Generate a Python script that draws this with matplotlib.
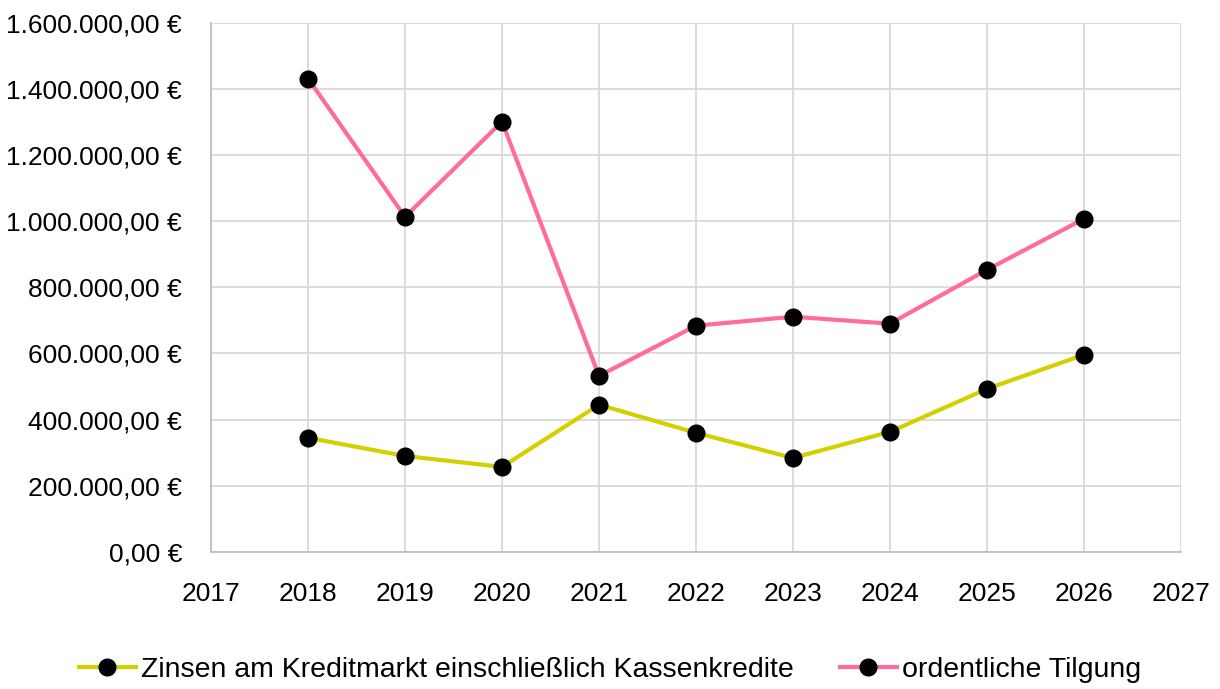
import matplotlib
matplotlib.use("Agg")
import matplotlib.pyplot as plt
from matplotlib.ticker import FuncFormatter

plt.rcParams['font.family'] = ['Liberation Sans', 'DejaVu Sans']

years = [2018, 2019, 2020, 2021, 2022, 2023, 2024, 2025, 2026]
zinsen = [345000, 290000, 257000, 445000, 360000, 284000, 363000, 493000, 596000]
tilgung = [1431000, 1013000, 1301000, 532000, 684000, 711000, 690000, 853000, 1007000]
labels = ["Zinsen am Kreditmarkt einschließlich Kassenkredite", "ordentliche Tilgung"]

fig = plt.figure(figsize=(12.2, 6.89), dpi=100)
ax = fig.add_axes([0.173, 0.199, 0.795, 0.768])

ax.plot(years, zinsen, color='#D4D000', lw=3, marker='o', ms=12,
        mfc='black', mec='black', label=labels[0], zorder=3)
ax.plot(years, tilgung, color='#FF6B9A', lw=3, marker='o', ms=12,
        mfc='black', mec='black', label=labels[1], zorder=3)

ax.set_xlim(2017, 2027)
ax.set_ylim(0, 1600000)
ax.set_xticks(range(2017, 2028))
ax.set_yticks(range(0, 1600001, 200000))

def fmt(v, pos):
    s = f"{v:,.2f}".replace(",", "X").replace(".", ",").replace("X", ".")
    return s + " €"
ax.yaxis.set_major_formatter(FuncFormatter(fmt))

ax.grid(True, color='#D9D9D9', lw=1.3)
ax.set_axisbelow(True)
for s in ['top', 'right']:
    ax.spines[s].set_visible(False)
for s in ['left', 'bottom']:
    ax.spines[s].set_color('#BFBFBF')
    ax.spines[s].set_linewidth(1.3)
ax.tick_params(length=0, labelsize=19)
ax.tick_params(axis='y', pad=21)
ax.tick_params(axis='x', pad=22)

fig.legend(loc='center', bbox_to_anchor=(0.5, 0.028), ncol=2, frameon=False,
           fontsize=20.5, handlelength=2.0, columnspacing=1.6, handletextpad=0.2)

fig.savefig("out.png", dpi=100)
